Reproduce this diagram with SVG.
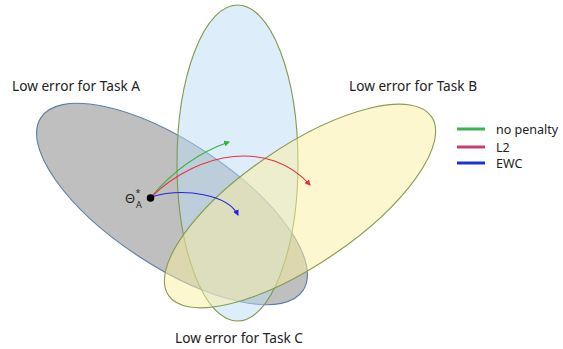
<svg xmlns="http://www.w3.org/2000/svg" width="563" height="349" viewBox="0 0 563 349">
<defs>
<style>
text{font-family:"Noto Sans","Open Sans","Liberation Sans",sans-serif;fill:#222;}
.title{font-size:14px;}
.leg{font-size:12.5px;}
.ell{stroke-width:1.1;}
.arr{fill:none;stroke-width:1.1;}
</style>
<marker id="mg" markerWidth="6" markerHeight="6" refX="5" refY="3" orient="auto" markerUnits="userSpaceOnUse"><path d="M0,0 L6,3 L0,6 z" fill="#2fb53a"/></marker>
<marker id="mr" markerWidth="6" markerHeight="6" refX="5" refY="3" orient="auto" markerUnits="userSpaceOnUse"><path d="M0,0 L6,3 L0,6 z" fill="#e8303a"/></marker>
<marker id="mb" markerWidth="6" markerHeight="6" refX="5" refY="3" orient="auto" markerUnits="userSpaceOnUse"><path d="M0,0 L6,3 L0,6 z" fill="#2424e0"/></marker>
</defs>
<rect width="563" height="349" fill="#ffffff"/>
<g id="taskA">
<ellipse class="ell" cx="172" cy="204" rx="157" ry="62" transform="rotate(33.4 172 204)" fill="#808080" fill-opacity="0.5" stroke="#5a7fa6"/>
</g>
<g id="taskC">
<ellipse class="ell" cx="237.5" cy="163" rx="60.5" ry="158" fill="#bcdcf5" fill-opacity="0.5" stroke="#7f9a4e"/>
</g>
<g id="taskB">
<ellipse class="ell" cx="300" cy="206" rx="159" ry="59" transform="rotate(-34.2 300 206)" fill="#fcf0a2" fill-opacity="0.5" stroke="#8a9c52"/>
</g>
<g id="labels">
<text class="title" x="12" y="91" textLength="128" lengthAdjust="spacingAndGlyphs">Low error for Task A</text>
<text class="title" x="349" y="91" textLength="128" lengthAdjust="spacingAndGlyphs">Low error for Task B</text>
<text class="title" x="175" y="343" textLength="128" lengthAdjust="spacingAndGlyphs">Low error for Task C</text>
</g>
<g id="connectors">
<path class="arr" d="M151,197 Q185,157 229,142" stroke="#2fb53a" marker-end="url(#mg)"/>
<path class="arr" d="M151,197 C200,150 270,140 310,185" stroke="#e8303a" marker-end="url(#mr)"/>
<path class="arr" d="M151,197 C185,187 228,195 238,215" stroke="#2424e0" marker-end="url(#mb)"/>
</g>
<g id="thetaA">
<circle cx="150.5" cy="198" r="3.8" fill="#000"/>
<text x="125" y="203" style="font-size:13px">Θ</text>
<text x="135.5" y="196" style="font-size:9px">*</text>
<text x="136" y="208" style="font-size:9px">A</text>
</g>
<g id="legend">
<line x1="457" y1="129" x2="485" y2="129" stroke="#3bb350" stroke-width="3"/>
<line x1="457" y1="147" x2="485" y2="147" stroke="#c8406a" stroke-width="3"/>
<line x1="457" y1="163" x2="485" y2="163" stroke="#1c30d8" stroke-width="3"/>
<text class="leg" x="496" y="134">no penalty</text>
<text class="leg" x="496" y="151.5">L2</text>
<text class="leg" x="496" y="167.5">EWC</text>
</g>
</svg>
